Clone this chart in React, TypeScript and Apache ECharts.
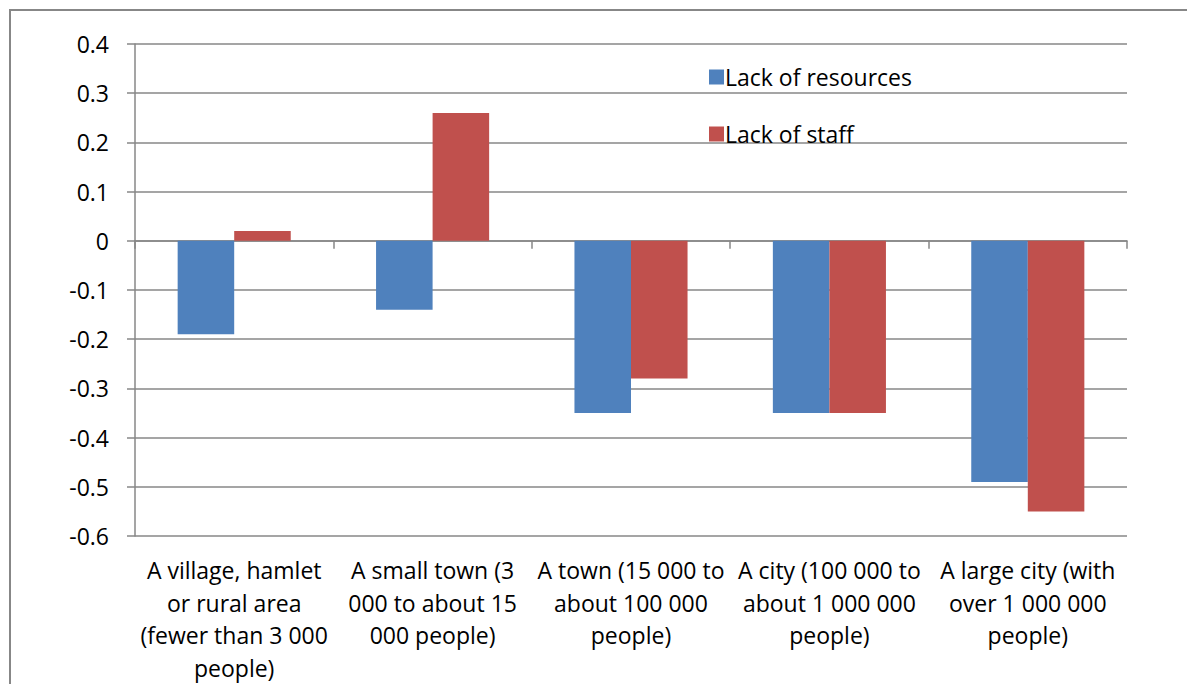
import React, { useEffect, useRef } from "react";
import * as echarts from "echarts";

const categories = [
  "A village, hamlet\nor rural area\n(fewer than 3 000\npeople)",
  "A small town (3\n000 to about 15\n000 people)",
  "A town (15 000 to\nabout 100 000\npeople)",
  "A city (100 000 to\nabout 1 000 000\npeople)",
  "A large city (with\nover 1 000 000\npeople)",
];
const seriesNames = ["Lack of resources", "Lack of staff"];
const lackOfResources = [-0.19, -0.14, -0.35, -0.35, -0.49];
const lackOfStaff = [0.02, 0.26, -0.28, -0.35, -0.55];
const yMin = -0.6;
const yMax = 0.4;
const yInterval = 0.1;

const FONT = "Open Sans";
const FS = 23;
const GRAY = "#878787";

export default function App() {
  const ref = useRef<HTMLDivElement>(null);
  useEffect(() => {
    if (!ref.current) return;
    const chart = echarts.init(ref.current, undefined, { renderer: "svg" });
    chart.setOption({
      animation: false,
      backgroundColor: "#ffffff",
      textStyle: { fontFamily: FONT },
      graphic: [
        {
          type: "rect",
          shape: { x: 10, y: 10, width: 1300, height: 800 },
          style: { fill: "none", stroke: GRAY, lineWidth: 2 },
          silent: true,
        },
      ],
      legend: {
        orient: "vertical",
        left: 704,
        top: 58,
        itemWidth: 15,
        itemHeight: 15,
        itemGap: 29,
        icon: "rect",
        textStyle: { fontFamily: FONT, fontSize: FS, color: "#000", lineHeight: 28, padding: [0, 0, 0, -4] },
        data: seriesNames,
      },
      grid: { left: 135, right: 60, top: 44, bottom: 148, containLabel: false },
      xAxis: [
        {
          type: "category",
          data: categories,
          position: "bottom",
          axisLine: { show: false, onZero: false },
          axisTick: { show: false },
          axisLabel: {
            interval: 0,
            margin: 18,
            fontFamily: FONT,
            fontSize: FS,
            lineHeight: 32.5,
            color: "#000",
            align: "center",
          },
          splitLine: { show: false },
        },
        {
          type: "category",
          data: categories,
          position: "bottom",
          axisLine: { show: true, onZero: true, lineStyle: { color: GRAY, width: 1.5 } },
          axisTick: { show: true, length: 8, inside: false, lineStyle: { color: GRAY, width: 1.5 } },
          axisLabel: { show: false },
          splitLine: { show: false },
        },
      ],
      yAxis: {
        type: "value",
        min: yMin,
        max: yMax,
        interval: yInterval,
        axisLine: { show: true, lineStyle: { color: GRAY, width: 1.5 } },
        axisTick: { show: true, length: 8, lineStyle: { color: GRAY, width: 1.5 } },
        splitLine: { show: true, lineStyle: { color: GRAY, width: 1.5 } },
        axisLabel: {
          margin: 26,
          fontFamily: FONT,
          fontSize: FS,
          color: "#000",
          formatter: (v: number) => {
            const r = Math.round(v * 10) / 10;
            return r === 0 ? "0" : r.toFixed(1);
          },
        },
      },
      series: [
        {
          name: seriesNames[0],
          type: "bar",
          xAxisIndex: 0,
          data: lackOfResources,
          barGap: "0%",
          barCategoryGap: "43%",
          itemStyle: { color: "#4F81BD" },
        },
        {
          name: seriesNames[1],
          type: "bar",
          xAxisIndex: 0,
          data: lackOfStaff,
          barGap: "0%",
          barCategoryGap: "43%",
          itemStyle: { color: "#C0504D" },
        },
      ],
    });
    return () => chart.dispose();
  }, []);
  return (
    <div
      ref={ref}
      style={{ position: "fixed", left: 0, top: 0, width: 1187, height: 684 }}
    />
  );
}
